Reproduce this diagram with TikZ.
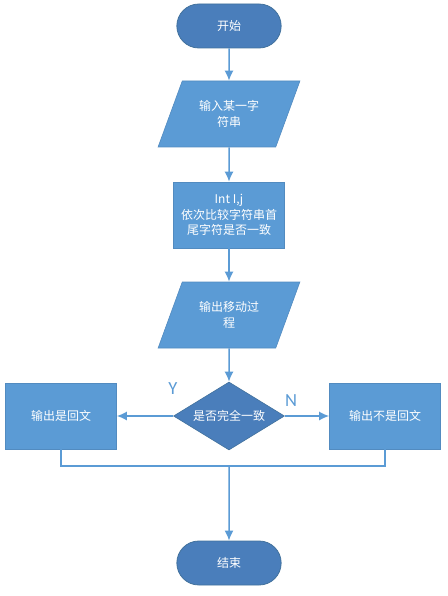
\documentclass[tikz,border=0pt]{standalone}
\usepackage{fontspec}
\setmainfont{Noto Sans CJK SC}
\newfontfamily\latinfont{Carlito}
\usetikzlibrary{arrows.meta,shapes.geometric,shapes.misc}
\definecolor{box area}{HTML}{5B9BD5}
\definecolor{term area}{HTML}{4A7EBB}
\definecolor{term edge}{HTML}{41719C}
\definecolor{line blue}{HTML}{5B9BD5}
\tikzset{terminal/.style={rounded rectangle, fill=term area, draw=term edge, line width=0.8pt,
        minimum width=111pt, minimum height=44pt, text=white},
    process/.style={rectangle, fill=box area, draw=box area!90!black, line width=0.6pt,
        minimum width=111pt, minimum height=66pt, text=white, align=center},
    io/.style={trapezium, trapezium left angle=65, trapezium right angle=115,
        trapezium stretches=true, fill=box area, draw=box area!90!black, line width=0.6pt,
        minimum width=143pt, minimum height=66pt, text=white, align=center, inner xsep=0pt},
    decision/.style={diamond, fill=term area, draw=term edge, line width=0.6pt,
        minimum width=111pt, minimum height=68pt, text=white, inner sep=0pt, aspect=1.6},
    flow/.style={draw=line blue, line width=1.5pt, -{Latex[length=10pt,width=9pt]}},
    mergeline/.style={draw=line blue, line width=1.5pt},
    mark label/.style={text=line blue, font=\latinfont\fontsize{18.5}{20}\selectfont}}

\begin{document}
\begin{tikzpicture}[x=1pt, y=-1pt, font=\fontsize{12}{15.5}\selectfont]
 \useasboundingbox (0,0) rectangle (447,596);

 \node[terminal] (start) at (229,26) {开始};
 \node[io] (input) at (229,114) {输入某一字\\符串};
 \node[process] (compare) at (229,215) {Int I,j\\依次比较字符串首\\尾字符是否一致};
 \node[io] (moves) at (229,315) {输出移动过\\程};
 \node[decision] (check) at (229,416) {是否完全一致};
 \node[process] (yes) at (61,416) {输出是回文};
 \node[process] (no) at (385,416) {输出不是回文};
 \node[terminal] (stop) at (229,563) {结束};
 \coordinate (merge) at (229,466);

 \node[mark label] (ylab) at (173,389) {Y};
 \node[mark label] (nlab) at (291,401) {N};

 \draw[flow] (start) -- (input);
 \draw[flow] (input) -- (compare);
 \draw[flow] (compare) -- (moves);
 \draw[flow] (moves) -- (check);
 \draw[flow] (check) -- (yes);
 \draw[flow] (check) -- (no);
 \draw[mergeline] (yes.south) |- (merge) -| (no.south);
 \draw[flow] (merge) -- (stop);

\end{tikzpicture}
\end{document}
